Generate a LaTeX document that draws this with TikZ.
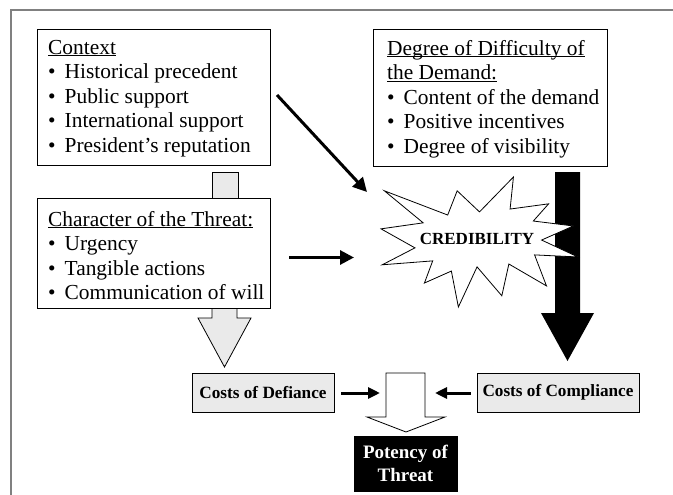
\documentclass[tikz,border=0pt]{standalone}
\usepackage{fontspec}
\setmainfont{Liberation Serif}
\usetikzlibrary{arrows.meta}
\definecolor{lgray}{RGB}{234,234,234}
\definecolor{framegray}{RGB}{128,128,128}
\newcommand\myul[1]{\setbox0\hbox{#1}\rlap{\rule[-2pt]{\wd0}{0.9pt}}\box0}
\newcommand\mybul{•\hskip 9pt\relax}
\tikzset{
  box/.style={draw=black, fill=white, line width=0.8pt, inner sep=0pt, anchor=north west},
  txt/.style={anchor=north west, inner sep=0pt, align=left, font=\fontsize{21.4}{24.5}\selectfont},
  costbox/.style={draw=black, fill=lgray, line width=0.8pt, inner sep=0pt, minimum height=39pt,
    font=\bfseries\fontsize{17.2}{20}\selectfont},
  arr/.style={line width=3pt, -{Triangle[length=14pt,width=14pt]}},
  smallarr/.style={line width=3pt, -{Triangle[length=12pt,width=11pt]}},
  blockgray/.style={fill=lgray, draw=black, line width=0.8pt},
}
\begin{document}
\begin{tikzpicture}[x=1pt,y=-1pt]
\useasboundingbox (0,0) rectangle (673,495);
% frame
\draw[framegray, line width=1.5pt] (673,10) -- (11,10) -- (11,495);
% black block arrow (Degree -> Compliance)
\fill[black] (555,172) -- (580,172) -- (580,313) -- (594,313) -- (567.5,361) -- (541,313) -- (555,313) -- cycle;
% gray connector Context -> Character
\filldraw[blockgray] (212,172) rectangle (238,202);
% gray block arrow Character -> Defiance
\filldraw[blockgray] (212,300) -- (237,300) -- (237,318) -- (251,318) -- (224.5,367) -- (198,318) -- (212,318) -- cycle;
% boxes
\node[box, minimum width=233pt, minimum height=136pt] (ctxbox) at (37,29) {};
\node[box, minimum width=234pt, minimum height=137pt] (degbox) at (373,29) {};
\node[box, minimum width=233pt, minimum height=110pt] (chrbox) at (37,198) {};
% texts
\node[txt] (ctxtext) at (48,36.85) {\strut\myul{Context}\\
\strut\mybul Historical precedent\\
\strut\mybul Public support\\
\strut\mybul International support\\
\strut\mybul President’s reputation};
\node[txt] (degtext) at (387,37.85) {\strut\myul{Degree of Difficulty of}\\
\strut\myul{the Demand:}\\
\strut\mybul Content of the demand\\
\strut\mybul Positive incentives\\
\strut\mybul Degree of visibility};
\node[txt] (chrtext) at (48,208.85) {\strut\myul{Character of the Threat:}\\
\strut\mybul Urgency\\
\strut\mybul Tangible actions\\
\strut\mybul Communication of will};
% starburst
\begin{scope}[shift={(381,177)}, x=0.91204pt, y=-0.60185pt]
\filldraw[fill=white, draw=black, line width=0.8pt]
 (108,58) -- (83.52,22.95) -- (73.12,63.2) -- (3.7,22.95) -- (46.27,76.17) -- (0,86.15)
 -- (37.22,117.75) -- (1.35,145.87) -- (56.67,139.37) -- (47.62,176.17) -- (77.15,156.27)
 -- (84.85,216) -- (105.32,149.35) -- (132.47,197.37) -- (140.2,144.57) -- (181.45,180.95)
 -- (168.37,129.42) -- (216,132.9) -- (176.07,104.75) -- (210.97,81.37) -- (167.02,73.15)
 -- (183.8,44.57) -- (141.55,53.25) -- (145.22,0) -- cycle;
\end{scope}
\node[font=\bfseries\fontsize{17}{20}\selectfont, inner sep=0pt] (cred) at (477,239) {CREDIBILITY};
% connector coordinates
\coordinate (diagS) at (277,95);
\coordinate (diagE) at (367,192);
\coordinate (horS) at (289,257.5);
\coordinate (horE) at (354,257.5);
\coordinate (wshaftL) at (380,393);
\coordinate (wshaftR) at (435,393);
% arrows
\draw[arr] (diagS) -- (diagE);
\draw[arr] (horS) -- (horE);
% white block arrow
\filldraw[fill=white, draw=black, line width=0.8pt] (386,373) -- (425,373) -- (425,417) -- (445,417) -- (406,432) -- (367,417) -- (386,417) -- cycle;
% cost boxes
\node[costbox, minimum width=142pt] (defbox) at (263,392.5) {Costs of Defiance};
\node[costbox, minimum width=162pt] (combox) at (558,392.5) {Costs of Compliance};
\draw[smallarr, shorten <=7pt] (defbox.east |- wshaftL) -- (wshaftL);
\draw[smallarr, shorten <=6pt] (combox.west |- wshaftR) -- (wshaftR);
% potency
\node[draw=black, fill=black, text=white, minimum width=103pt, minimum height=55pt, inner sep=0pt,
  align=center, font=\bfseries\fontsize{19}{22.7}\selectfont] (potency) at (405.5,463.5) {Potency of\\Threat};
\end{tikzpicture}
\end{document}
